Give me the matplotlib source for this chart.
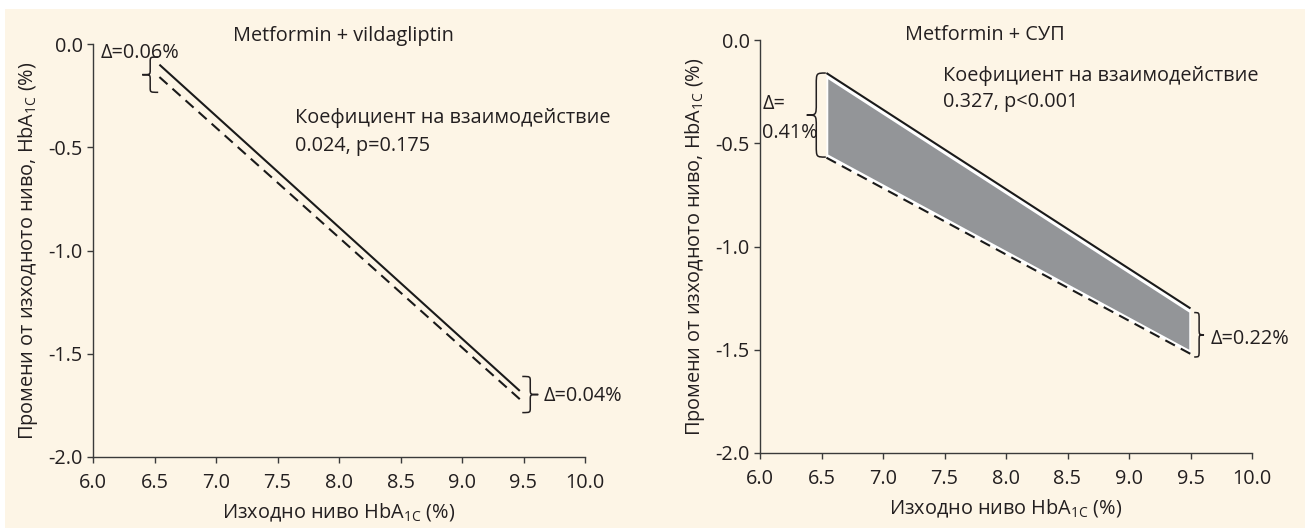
import matplotlib
matplotlib.use("Agg")
import matplotlib.pyplot as plt
from matplotlib.patches import Rectangle, PathPatch
from matplotlib.path import Path

plt.rcParams['font.family'] = ['Open Sans', 'DejaVu Sans']
plt.rcParams['mathtext.fontset'] = 'custom'
plt.rcParams['mathtext.rm'] = 'Open Sans'
plt.rcParams['axes.unicode_minus'] = False

# ---------------- data ----------------
x_ticks = [6.0, 6.5, 7.0, 7.5, 8.0, 8.5, 9.0, 9.5, 10.0]
x_tick_labels = ["6.0", "6.5", "7.0", "7.5", "8.0", "8.5", "9.0", "9.5", "10.0"]
y_ticks = [0.0, -0.5, -1.0, -1.5, -2.0]
y_tick_labels = ["0.0", "-0.5", "-1.0", "-1.5", "-2.0"]

vilda_x = [6.54, 9.47]
vilda_solid = [-0.10, -1.68]
vilda_dashed = [-0.16, -1.72]

sup_x = [6.54, 9.50]
sup_solid = [-0.16, -1.30]
sup_dashed = [-0.57, -1.52]
sup_shade_x = [6.555, 9.49]
sup_shade_upper = [-0.19, -1.32]
sup_shade_lower = [-0.555, -1.50]

title_left = "Metformin + vildagliptin"
title_right = "Metformin + СУП"
coef_left = ["Коефициент на взаимодействие", "0.024, p=0.175"]
coef_right = ["Коефициент на взаимодействие", "0.327, p<0.001"]
delta_left_start = "Δ=0.06%"
delta_left_end = "Δ=0.04%"
delta_right_start = ["Δ=", "0.41%"]
delta_right_end = "Δ=0.22%"

ylabel = "Промени от изходното ниво, HbA$_\\mathregular{1C}$ (%)"
xlabel = "Изходно ниво HbA$_\\mathregular{1C}$ (%)"

# ---------------- style ----------------
W, H = 1305, 530
cream = '#fdf5e6'
txt = '#231f20'
axc = '#3a3a3a'
gray = '#939598'
fs = 14.3

fig = plt.figure(figsize=(W / 100, H / 100), dpi=100)
fig.patch.set_facecolor('white')
fig.add_artist(Rectangle((5 / W, 2 / H), 1, (H - 11) / H, transform=fig.transFigure,
                         facecolor=cream, edgecolor='none', zorder=0))

ax1 = fig.add_axes([93 / W, 1 - 457 / H, 492 / W, 413 / H])
ax2 = fig.add_axes([760 / W, 1 - 453 / H, 492 / W, 413 / H])


def style(ax):
    ax.set_facecolor('none')
    ax.set_xlim(6.0, 10.0)
    ax.set_ylim(-2.0, 0.0)
    ax.set_xticks(x_ticks)
    ax.set_xticklabels(x_tick_labels)
    ax.set_yticks(y_ticks)
    ax.set_yticklabels(y_tick_labels)
    for s in ['top', 'right']:
        ax.spines[s].set_visible(False)
    for s in ['left', 'bottom']:
        ax.spines[s].set_color(axc)
        ax.spines[s].set_linewidth(1.0)
    ax.tick_params(direction='out', length=4, width=1.0, color=axc,
                   labelsize=fs, labelcolor=txt)
    ax.tick_params(axis='x', pad=7.5)
    ax.tick_params(axis='y', pad=3.5)
    ax.set_xlabel(xlabel, fontsize=fs, color=txt, labelpad=6)
    ax.set_ylabel(ylabel, fontsize=fs, color=txt, labelpad=6)


def brace(ax, x_open, x_tip, y_top, y_bot, lw=1.1):
    xm = (x_open + x_tip) / 2
    ym = (y_top + y_bot) / 2
    r = 0.14 * (y_bot - y_top)
    verts = [(x_open, y_top), (xm, y_top), (xm, y_top), (xm, y_top + r),
             (xm, ym - r),
             (xm, ym), (xm, ym), (x_tip, ym),
             (xm, ym), (xm, ym), (xm, ym + r),
             (xm, y_bot - r),
             (xm, y_bot), (xm, y_bot), (x_open, y_bot)]
    codes = [Path.MOVETO, Path.CURVE4, Path.CURVE4, Path.CURVE4,
             Path.LINETO,
             Path.CURVE4, Path.CURVE4, Path.CURVE4,
             Path.CURVE4, Path.CURVE4, Path.CURVE4,
             Path.LINETO,
             Path.CURVE4, Path.CURVE4, Path.CURVE4]
    ax.add_patch(PathPatch(Path(verts, codes), facecolor='none', edgecolor=txt,
                           lw=lw, clip_on=False, zorder=5))


style(ax1)
style(ax2)

dash = (5.2, 3.2)

# left panel
ax1.plot(vilda_x, vilda_solid, color='#1a1a1a', lw=1.5, solid_capstyle='butt', zorder=4)
ax1.plot(vilda_x, vilda_dashed, color='#1a1a1a', lw=1.5, dashes=dash, zorder=4)
ax1.text(7.14, 0.04, title_left, fontsize=fs, color=txt, ha='left', va='center', clip_on=False)
ax1.text(7.64, -0.36, coef_left[0], fontsize=fs, color=txt, ha='left', va='center')
ax1.text(7.64, -0.495, coef_left[1], fontsize=fs, color=txt, ha='left', va='center')
ax1.text(6.06, -0.045, delta_left_start, fontsize=fs, color=txt, ha='left', va='center')
brace(ax1, 6.53, 6.40, -0.063, -0.234)
brace(ax1, 9.49, 9.62, -1.61, -1.785)
ax1.text(9.66, -1.705, delta_left_end, fontsize=fs, color=txt, ha='left', va='center')

# right panel
ax2.fill_between(sup_x, sup_solid, sup_dashed, facecolor='white',
                 edgecolor='none', zorder=2)
ax2.fill_between(sup_shade_x, sup_shade_upper, sup_shade_lower, facecolor=gray,
                 edgecolor='none', zorder=3)
ax2.plot(sup_x, sup_solid, color='#1a1a1a', lw=1.5, solid_capstyle='butt', zorder=4)
ax2.plot(sup_x, sup_dashed, color='#1a1a1a', lw=1.5, dashes=dash, zorder=4)
ax2.text(7.18, 0.025, title_right, fontsize=fs, color=txt, ha='left', va='center', clip_on=False)
ax2.text(7.49, -0.174, coef_right[0], fontsize=fs, color=txt, ha='left', va='center')
ax2.text(7.49, -0.30, coef_right[1], fontsize=fs, color=txt, ha='left', va='center')
ax2.text(6.02, -0.31, delta_right_start[0], fontsize=fs, color=txt, ha='left', va='center')
ax2.text(6.02, -0.45, delta_right_start[1], fontsize=fs, color=txt, ha='left', va='center')
brace(ax2, 6.535, 6.38, -0.16, -0.567)
brace(ax2, 9.53, 9.61, -1.32, -1.535)
ax2.text(9.665, -1.45, delta_right_end, fontsize=fs, color=txt, ha='left', va='center')

fig.savefig('out.png', dpi=100, facecolor=fig.get_facecolor())
